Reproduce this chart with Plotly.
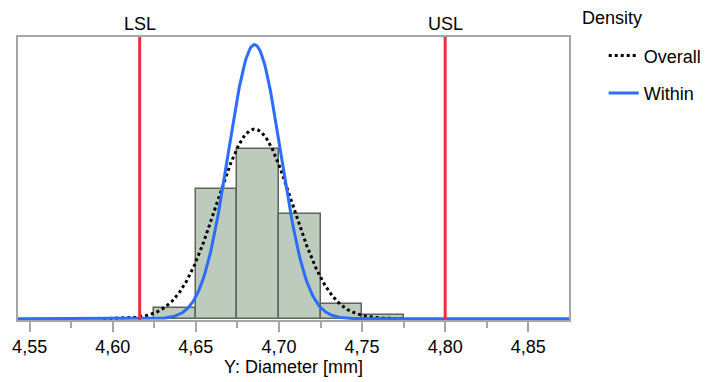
import numpy as np
import plotly.graph_objects as go

# ---- data ----
bin_left = [4.625, 4.650, 4.675, 4.700, 4.725, 4.750]
bin_width = 0.025
counts = [3, 36, 47, 29, 4, 1]

mean_val = 4.6853
sigma_overall = 0.02275
sigma_within = 0.01573

LSL = 4.6162
USL = 4.80

x_ticks = [4.55, 4.60, 4.65, 4.70, 4.75, 4.80, 4.85]
x_range = [4.543, 4.8745]

FONT = "Liberation Sans, Arial, Helvetica, sans-serif"
FS = 18

n_total = sum(counts)
mids = [b + bin_width / 2 for b in bin_left]


def normal_curve(mu, sd, lo, hi):
    xs = np.linspace(lo, hi, 600)
    ys = n_total * bin_width / (sd * np.sqrt(2 * np.pi)) * np.exp(-0.5 * ((xs - mu) / sd) ** 2)
    return xs, ys


xo, yo = normal_curve(mean_val, sigma_overall, mean_val - 4 * sigma_overall, mean_val + 4 * sigma_overall)
xw, yw = normal_curve(mean_val, sigma_within, x_range[0], x_range[1])

fig = go.Figure()
fig.add_trace(go.Bar(
    x=mids, y=counts, width=bin_width,
    marker=dict(color="#bccbbc", line=dict(color="#5b655b", width=1.5)),
    showlegend=False, hoverinfo="skip",
))

# spec limits
for v in (LSL, USL):
    fig.add_shape(type="line", x0=v, x1=v, y0=0, y1=1, xref="x", yref="paper",
                  line=dict(color="#e8303f", width=3), layer="above")
for v, name in ((LSL, "LSL"), (USL, "USL")):
    fig.add_annotation(x=v, y=1, xref="x", yref="paper", text=name, showarrow=False,
                       yanchor="middle", yshift=13, font=dict(family=FONT, size=FS, color="#000"))

# legend title as annotation (left of the legend symbols, as in reference)
fig.add_annotation(x=1.02, y=1, xref="paper", yref="paper", text="Density", showarrow=False,
                   xanchor="left", yanchor="middle", yshift=19,
                   font=dict(family=FONT, size=FS, color="#000"))

fig.add_trace(go.Scatter(
    x=xo, y=yo, mode="lines", name="Overall", legendgroup="a",
    line=dict(color="#000000", width=3, dash="dot"),
))
fig.add_trace(go.Scatter(
    x=xw, y=yw, mode="lines", name="Within", legendgroup="b",
    line=dict(color="#2c6cff", width=3),
))

fig.update_layout(
    width=719, height=382,
    margin=dict(l=18, r=150, t=37, b=62, autoexpand=False),
    paper_bgcolor="white", plot_bgcolor="white",
    separators=", ",
    font=dict(family=FONT, size=FS, color="#000"),
    bargap=0,
    legend=dict(
        x=1.063, y=0.999, xanchor="left", yanchor="top",
        tracegroupgap=11, font=dict(family=FONT, size=FS),
        itemwidth=30, borderwidth=0,
    ),
    xaxis=dict(
        range=x_range, tickvals=x_ticks, tickformat=".2f",
        ticks="outside", ticklen=10, tickcolor="#a6a6a6", tickwidth=1.5,
        minor=dict(dtick=0.025, tick0=4.55, ticks="outside", ticklen=6, tickcolor="#a6a6a6", tickwidth=1.5),
        showline=True, linecolor="#a6a6a6", linewidth=1.5, mirror=True,
        showgrid=False, zeroline=False, automargin=False,
        tickfont=dict(family=FONT, size=FS),
        ticklabelstandoff=0,
        title=dict(text="Y: Diameter [mm]", font=dict(family=FONT, size=FS), standoff=2),
    ),
    yaxis=dict(
        range=[-0.35, 78.2], showticklabels=False, ticks="",
        showline=True, linecolor="#a6a6a6", linewidth=1.5, mirror=True,
        showgrid=False, zeroline=False, automargin=False,
    ),
)

fig.write_html("out.html")
